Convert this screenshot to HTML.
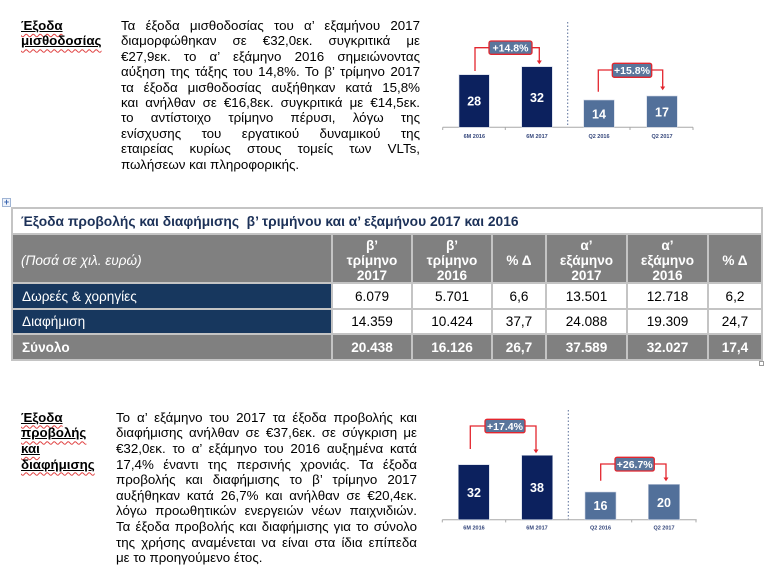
<!DOCTYPE html>
<html><head><meta charset="utf-8">
<style>
*{margin:0;padding:0;box-sizing:border-box}
html,body{width:770px;height:567px;background:#fff;overflow:hidden;position:relative;font-family:"Liberation Sans","Noto Sans CJK SC",sans-serif;color:#000}
.p{position:absolute;font-size:13.33px}
.p div{white-space:normal;text-align:justify;text-align-last:justify;height:var(--lh);overflow:visible}
.p div.l{text-align-last:left}
.h{position:absolute;font-size:13.33px;font-weight:bold}
.h div{height:var(--lh)}
.u{text-decoration:underline;text-decoration-color:#000;text-underline-offset:1px}
.w{text-decoration:underline wavy #e04040;text-decoration-thickness:1px;text-underline-offset:3px}
.c{position:absolute;display:flex;align-items:center;justify-content:center;text-align:center;font-size:13.6px;line-height:15px}
.g{background:#808080;color:#fff;font-weight:bold}
.n{background:#17375e;color:#fff;justify-content:flex-start;padding-left:9px}
.wh{background:#fff;color:#000}
.hd{padding-top:3px}
</style></head><body>

<!-- Section 1 -->
<div class="h" style="left:21px;top:18px;--lh:15.41px;line-height:15.41px">
<div><span class="u"><span class="w">Έξοδα</span></span></div>
<div><span class="u"><span class="w">μισθοδοσίας</span></span></div>
</div>
<div class="p" style="left:121px;top:18px;width:299px;--lh:15.41px;line-height:15.41px">
<div>Τα έξοδα μισθοδοσίας του α’ εξαμήνου 2017</div>
<div>διαμορφώθηκαν σε €32,0εκ. συγκριτικά με</div>
<div>€27,9εκ. το α’ εξάμηνο 2016 σημειώνοντας</div>
<div>αύξηση της τάξης του 14,8%. Το β’ τρίμηνο 2017</div>
<div>τα έξοδα μισθοδοσίας αυξήθηκαν κατά 15,8%</div>
<div>και ανήλθαν σε €16,8εκ. συγκριτικά με €14,5εκ.</div>
<div>το αντίστοιχο τρίμηνο πέρυσι, λόγω της</div>
<div>ενίσχυσης του εργατικού δυναμικού της</div>
<div>εταιρείας κυρίως στους τομείς των VLTs,</div>
<div class="l">πωλήσεων και πληροφορικής.</div>
</div>

<!-- Section 2 -->
<div class="h" style="left:21px;top:409.7px;--lh:15.62px;line-height:15.62px">
<div><span class="u"><span class="w">Έξοδα</span></span></div>
<div><span class="u"><span class="w">προβολής</span></span></div>
<div><span class="u"><span class="w">και</span></span></div>
<div><span class="u"><span class="w">διαφήμισης</span></span></div>
</div>
<div class="p" style="left:116px;top:409.7px;width:301px;--lh:15.62px;line-height:15.62px">
<div>Το α’ εξάμηνο του 2017 τα έξοδα προβολής και</div>
<div>διαφήμισης ανήλθαν σε €37,6εκ. σε σύγκριση με</div>
<div>€32,0εκ. το α’ εξάμηνο του 2016 αυξημένα κατά</div>
<div>17,4% έναντι της περσινής χρονιάς. Τα έξοδα</div>
<div>προβολής και διαφήμισης το β’ τρίμηνο 2017</div>
<div>αυξήθηκαν κατά 26,7% και ανήλθαν σε €20,4εκ.</div>
<div>λόγω προωθητικών ενεργειών νέων παιχνιδιών.</div>
<div>Τα έξοδα προβολής και διαφήμισης για το σύνολο</div>
<div>της χρήσης αναμένεται να είναι στα ίδια επίπεδα</div>
<div class="l">με το προηγούμενο έτος.</div>
</div>

<!-- Table -->
<div style="position:absolute;left:2px;top:198px;width:9px;height:9px;border:1px solid #9fb4d4;background:#eef3fb;color:#3a66b0;font-size:9px;line-height:7px;text-align:center;font-weight:bold">+</div>
<div style="position:absolute;left:759px;top:361px;width:5px;height:5px;border:1px solid #9a9a9a;background:#fff"></div>
<div style="position:absolute;left:11px;top:207px;width:752px;height:154px;background:#c4c4c4"></div>

<div class="c wh" style="left:13px;top:209px;width:748px;height:24px;justify-content:flex-start;padding-left:8px;color:#1c3158;font-weight:bold;font-size:13.8px">Έξοδα προβολής και διαφήμισης&nbsp; β’ τριμήνου και α’ εξαμήνου 2017 και 2016</div>

<!-- header row -->
<div class="c g hd" style="left:13px;top:235px;width:318px;height:47px;justify-content:flex-start;padding-left:8px;font-weight:normal;font-style:italic">(Ποσά σε χιλ. ευρώ)</div>
<div class="c g hd" style="left:333px;top:235px;width:78px;height:47px">β’<br>τρίμηνο<br>2017</div>
<div class="c g hd" style="left:413px;top:235px;width:78px;height:47px">β’<br>τρίμηνο<br>2016</div>
<div class="c g hd" style="left:493px;top:235px;width:52px;height:47px">% Δ</div>
<div class="c g hd" style="left:547px;top:235px;width:79px;height:47px">α’<br>εξάμηνο<br>2017</div>
<div class="c g hd" style="left:628px;top:235px;width:79px;height:47px">α’<br>εξάμηνο<br>2016</div>
<div class="c g hd" style="left:709px;top:235px;width:52px;height:47px">% Δ</div>

<!-- row 1 -->
<div class="c n" style="left:13px;top:284px;width:318px;height:24px">Δωρεές &amp; χορηγίες</div>
<div class="c wh" style="left:333px;top:284px;width:78px;height:24px">6.079</div>
<div class="c wh" style="left:413px;top:284px;width:78px;height:24px">5.701</div>
<div class="c wh" style="left:493px;top:284px;width:52px;height:24px">6,6</div>
<div class="c wh" style="left:547px;top:284px;width:79px;height:24px">13.501</div>
<div class="c wh" style="left:628px;top:284px;width:79px;height:24px">12.718</div>
<div class="c wh" style="left:709px;top:284px;width:52px;height:24px">6,2</div>

<!-- row 2 -->
<div class="c n" style="left:13px;top:310px;width:318px;height:23px">Διαφήμιση</div>
<div class="c wh" style="left:333px;top:310px;width:78px;height:23px">14.359</div>
<div class="c wh" style="left:413px;top:310px;width:78px;height:23px">10.424</div>
<div class="c wh" style="left:493px;top:310px;width:52px;height:23px">37,7</div>
<div class="c wh" style="left:547px;top:310px;width:79px;height:23px">24.088</div>
<div class="c wh" style="left:628px;top:310px;width:79px;height:23px">19.309</div>
<div class="c wh" style="left:709px;top:310px;width:52px;height:23px">24,7</div>

<!-- row 3 -->
<div class="c g" style="left:13px;top:335px;width:318px;height:24px;justify-content:flex-start;padding-left:9px">Σύνολο</div>
<div class="c g" style="left:333px;top:335px;width:78px;height:24px">20.438</div>
<div class="c g" style="left:413px;top:335px;width:78px;height:24px">16.126</div>
<div class="c g" style="left:493px;top:335px;width:52px;height:24px">26,7</div>
<div class="c g" style="left:547px;top:335px;width:79px;height:24px">37.589</div>
<div class="c g" style="left:628px;top:335px;width:79px;height:24px">32.027</div>
<div class="c g" style="left:709px;top:335px;width:52px;height:24px">17,4</div>

<!-- Charts -->
<svg style="position:absolute;left:0;top:0" width="770" height="567" viewBox="0 0 770 567" font-family="Liberation Sans, sans-serif">
<g>
<!-- chart 1 -->
<line x1="567.7" y1="22" x2="567.7" y2="127" stroke="#5a6f9a" stroke-width="1" stroke-dasharray="1.5 2"/>
<line x1="442.7" y1="127.3" x2="693" y2="127.3" stroke="#a8a8a8" stroke-width="1"/>
<g stroke="#a8a8a8" stroke-width="1">
<line x1="442.7" y1="127.3" x2="442.7" y2="130"/><line x1="505.3" y1="127.3" x2="505.3" y2="130"/><line x1="630" y1="127.3" x2="630" y2="130"/><line x1="693" y1="127.3" x2="693" y2="130"/>
</g>
<rect x="459" y="74.7" width="30.3" height="52.6" fill="#0c215e" stroke="#cfd6e4" stroke-width="0.6"/>
<rect x="521.7" y="66.7" width="30.6" height="60.6" fill="#0c215e" stroke="#cfd6e4" stroke-width="0.6"/>
<rect x="583.7" y="100" width="30.6" height="27.3" fill="#52709a" stroke="#cfd6e4" stroke-width="0.6"/>
<rect x="646.7" y="96" width="30.6" height="31.3" fill="#52709a" stroke="#cfd6e4" stroke-width="0.6"/>
<g fill="#fff" font-weight="bold" font-size="12.5" text-anchor="middle">
<text x="474.2" y="105.5">28</text><text x="537" y="102">32</text><text x="599" y="118.5">14</text><text x="662" y="116.5">17</text>
</g>
<g fill="#33457a" font-weight="bold" font-size="5.5" text-anchor="middle">
<text x="474.3" y="138">6M 2016</text><text x="537" y="138">6M 2017</text><text x="599" y="138">Q2 2016</text><text x="662" y="138">Q2 2017</text>
</g>
<g stroke="#e3262e" stroke-width="1.3" fill="none">
<path d="M475,71 V47.7 H489"/><path d="M532,47.7 H539.3 V61"/>
<path d="M598.3,91.7 V70 H612.3"/><path d="M651.7,70 H662.7 V87"/>
</g>
<g fill="#e3262e"><path d="M536.8,60.5 h5 l-2.5,3.8z"/><path d="M660.2,86.5 h5 l-2.5,3.8z"/></g>
<rect x="489" y="41" width="43" height="13.3" rx="2" fill="#5a769c" stroke="#e3262e" stroke-width="1.3"/>
<rect x="612.3" y="63.3" width="39.4" height="14" rx="2" fill="#5a769c" stroke="#e3262e" stroke-width="1.3"/>
<g fill="#fff" font-weight="bold" font-size="10.5" text-anchor="middle">
<text x="510.5" y="51.4">+14.8%</text><text x="632" y="74.2">+15.8%</text>
</g>

<!-- chart 2 -->
<line x1="568.3" y1="410" x2="568.3" y2="519.7" stroke="#5a6f9a" stroke-width="1" stroke-dasharray="1.5 2"/>
<line x1="442.3" y1="519.7" x2="696.7" y2="519.7" stroke="#a8a8a8" stroke-width="1"/>
<g stroke="#a8a8a8" stroke-width="1">
<line x1="442.3" y1="519.7" x2="442.3" y2="522.4"/><line x1="505.7" y1="519.7" x2="505.7" y2="522.4"/><line x1="631.7" y1="519.7" x2="631.7" y2="522.4"/><line x1="696" y1="519.7" x2="696" y2="522.4"/>
</g>
<rect x="458.3" y="464.7" width="31" height="55" fill="#0c215e" stroke="#cfd6e4" stroke-width="0.6"/>
<rect x="521.7" y="455.3" width="31" height="64.4" fill="#0c215e" stroke="#cfd6e4" stroke-width="0.6"/>
<rect x="585" y="492" width="31" height="27.7" fill="#52709a" stroke="#cfd6e4" stroke-width="0.6"/>
<rect x="648.3" y="484.3" width="31.4" height="35.4" fill="#52709a" stroke="#cfd6e4" stroke-width="0.6"/>
<g fill="#fff" font-weight="bold" font-size="12.5" text-anchor="middle">
<text x="474" y="496.8">32</text><text x="537" y="492.2">38</text><text x="600.5" y="510.2">16</text><text x="664" y="506.8">20</text>
</g>
<g fill="#33457a" font-weight="bold" font-size="5.5" text-anchor="middle">
<text x="474" y="529.3">6M 2016</text><text x="537" y="529.3">6M 2017</text><text x="600.5" y="529.3">Q2 2016</text><text x="664" y="529.3">Q2 2017</text>
</g>
<g stroke="#e3262e" stroke-width="1.3" fill="none">
<path d="M470.3,449 V426 H485"/><path d="M525,426 H536 V450"/>
<path d="M600.7,480.7 V464 H615"/><path d="M654.3,464 H666 V478"/>
</g>
<g fill="#e3262e"><path d="M533.5,449.5 h5 l-2.5,3.8z"/><path d="M663.5,477.5 h5 l-2.5,3.8z"/></g>
<rect x="485" y="419.3" width="40" height="13.4" rx="2" fill="#5a769c" stroke="#e3262e" stroke-width="1.3"/>
<rect x="615" y="457.3" width="39.3" height="13.7" rx="2" fill="#5a769c" stroke="#e3262e" stroke-width="1.3"/>
<g fill="#fff" font-weight="bold" font-size="10.5" text-anchor="middle">
<text x="505" y="429.9">+17.4%</text><text x="634.7" y="468">+26.7%</text>
</g>
</g>
</svg>
</body></html>
